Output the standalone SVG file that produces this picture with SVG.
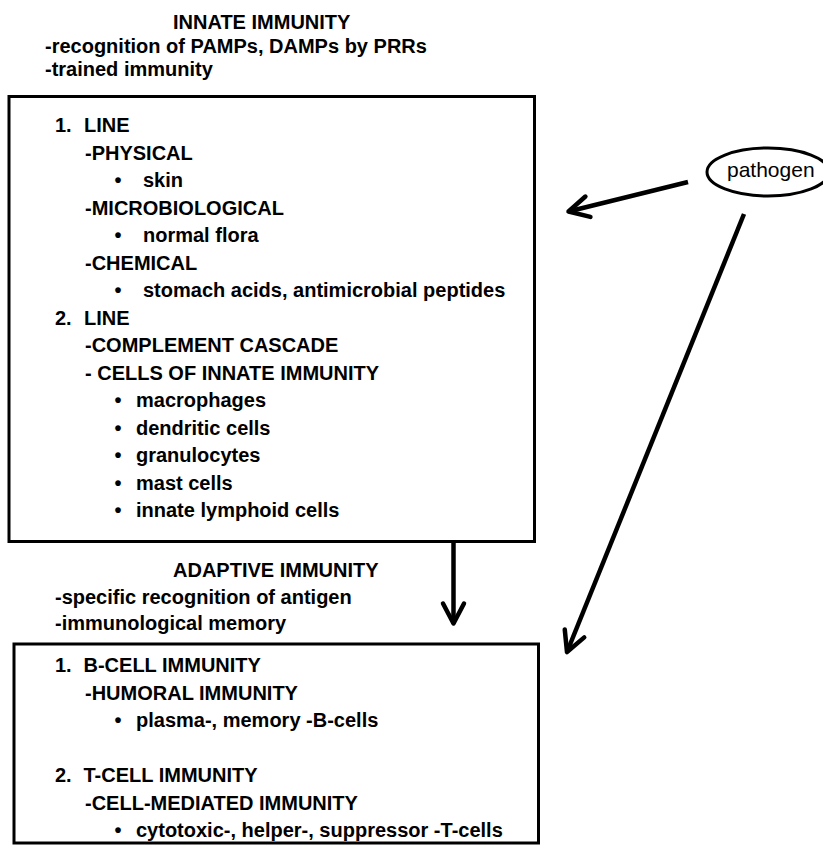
<svg xmlns="http://www.w3.org/2000/svg" width="823" height="846" viewBox="0 0 823 846">
<style>
text{font-family:"Liberation Sans",Arial,sans-serif;font-size:20px;font-weight:bold;fill:#000}
.reg{font-weight:normal;font-size:21px}
.bul{text-anchor:middle}
.box{fill:#fff;stroke:#000;stroke-width:3}
.conn{fill:none;stroke:#000;stroke-width:4.5;marker-end:url(#ah)}
</style>
<defs>
<marker id="ah" markerUnits="userSpaceOnUse" viewBox="-24 -14 28 28" refX="0" refY="0" markerWidth="28" markerHeight="28" orient="auto" overflow="visible">
<path d="M-20,-10.5 L0,0 L-20,10.5" fill="none" stroke="#000" stroke-width="4.5" stroke-linecap="round" stroke-linejoin="round"/>
</marker>
</defs>
<rect width="823" height="846" fill="#fff"/>
<g id="innate-header">
<text x="173" y="29">INNATE IMMUNITY</text>
<text x="45" y="52.5">-recognition of PAMPs, DAMPs by PRRs</text>
<text x="45" y="76">-trained immunity</text>
</g>
<g id="innate-box">
<rect class="box" x="9" y="96.5" width="525.5" height="445"/>
<text x="55" y="132">1.</text><text x="84" y="132">LINE</text>
<text x="85" y="159.5">-PHYSICAL</text>
<text class="bul" x="118" y="187">•</text><text x="143" y="187">skin</text>
<text x="85" y="214.5">-MICROBIOLOGICAL</text>
<text class="bul" x="118" y="242">•</text><text x="143" y="242">normal flora</text>
<text x="85" y="269.5">-CHEMICAL</text>
<text class="bul" x="118" y="297">•</text><text x="143" y="297">stomach acids, antimicrobial peptides</text>
<text x="55" y="324.5">2.</text><text x="84" y="324.5">LINE</text>
<text x="85" y="352">-COMPLEMENT CASCADE</text>
<text x="85" y="379.5">- CELLS OF INNATE IMMUNITY</text>
<text class="bul" x="118" y="407">•</text><text x="136" y="407">macrophages</text>
<text class="bul" x="118" y="434.5">•</text><text x="136" y="434.5">dendritic cells</text>
<text class="bul" x="118" y="462">•</text><text x="136" y="462">granulocytes</text>
<text class="bul" x="118" y="489.5">•</text><text x="136" y="489.5">mast cells</text>
<text class="bul" x="118" y="517">•</text><text x="136" y="517">innate lymphoid cells</text>
</g>
<g id="adaptive-header">
<text x="173" y="577">ADAPTIVE IMMUNITY</text>
<text x="55" y="603.5">-specific recognition of antigen</text>
<text x="55" y="630">-immunological memory</text>
</g>
<g id="adaptive-box">
<rect class="box" x="14" y="644" width="524.5" height="199"/>
<text x="55" y="672">1.</text><text x="83.5" y="672">B-CELL IMMUNITY</text>
<text x="85" y="699.5">-HUMORAL IMMUNITY</text>
<text class="bul" x="118" y="727">•</text><text x="136" y="727">plasma-, memory -B-cells</text>
<text x="55" y="782">2.</text><text x="83.5" y="782">T-CELL IMMUNITY</text>
<text x="85" y="809.5">-CELL-MEDIATED IMMUNITY</text>
<text class="bul" x="118" y="837">•</text><text x="136" y="837">cytotoxic-, helper-, suppressor -T-cells</text>
</g>
<g id="pathogen">
<ellipse cx="768" cy="172" rx="61" ry="24" fill="#fff" stroke="#000" stroke-width="3"/>
<text class="reg" x="727" y="177">pathogen</text>
</g>
<g id="connectors">
<path class="conn" d="M688,182 L568.5,211.5"/>
<path class="conn" d="M744,214 L567,652"/>
<path class="conn" d="M453.5,541.5 L453.5,623.5"/>
</g>
</svg>
